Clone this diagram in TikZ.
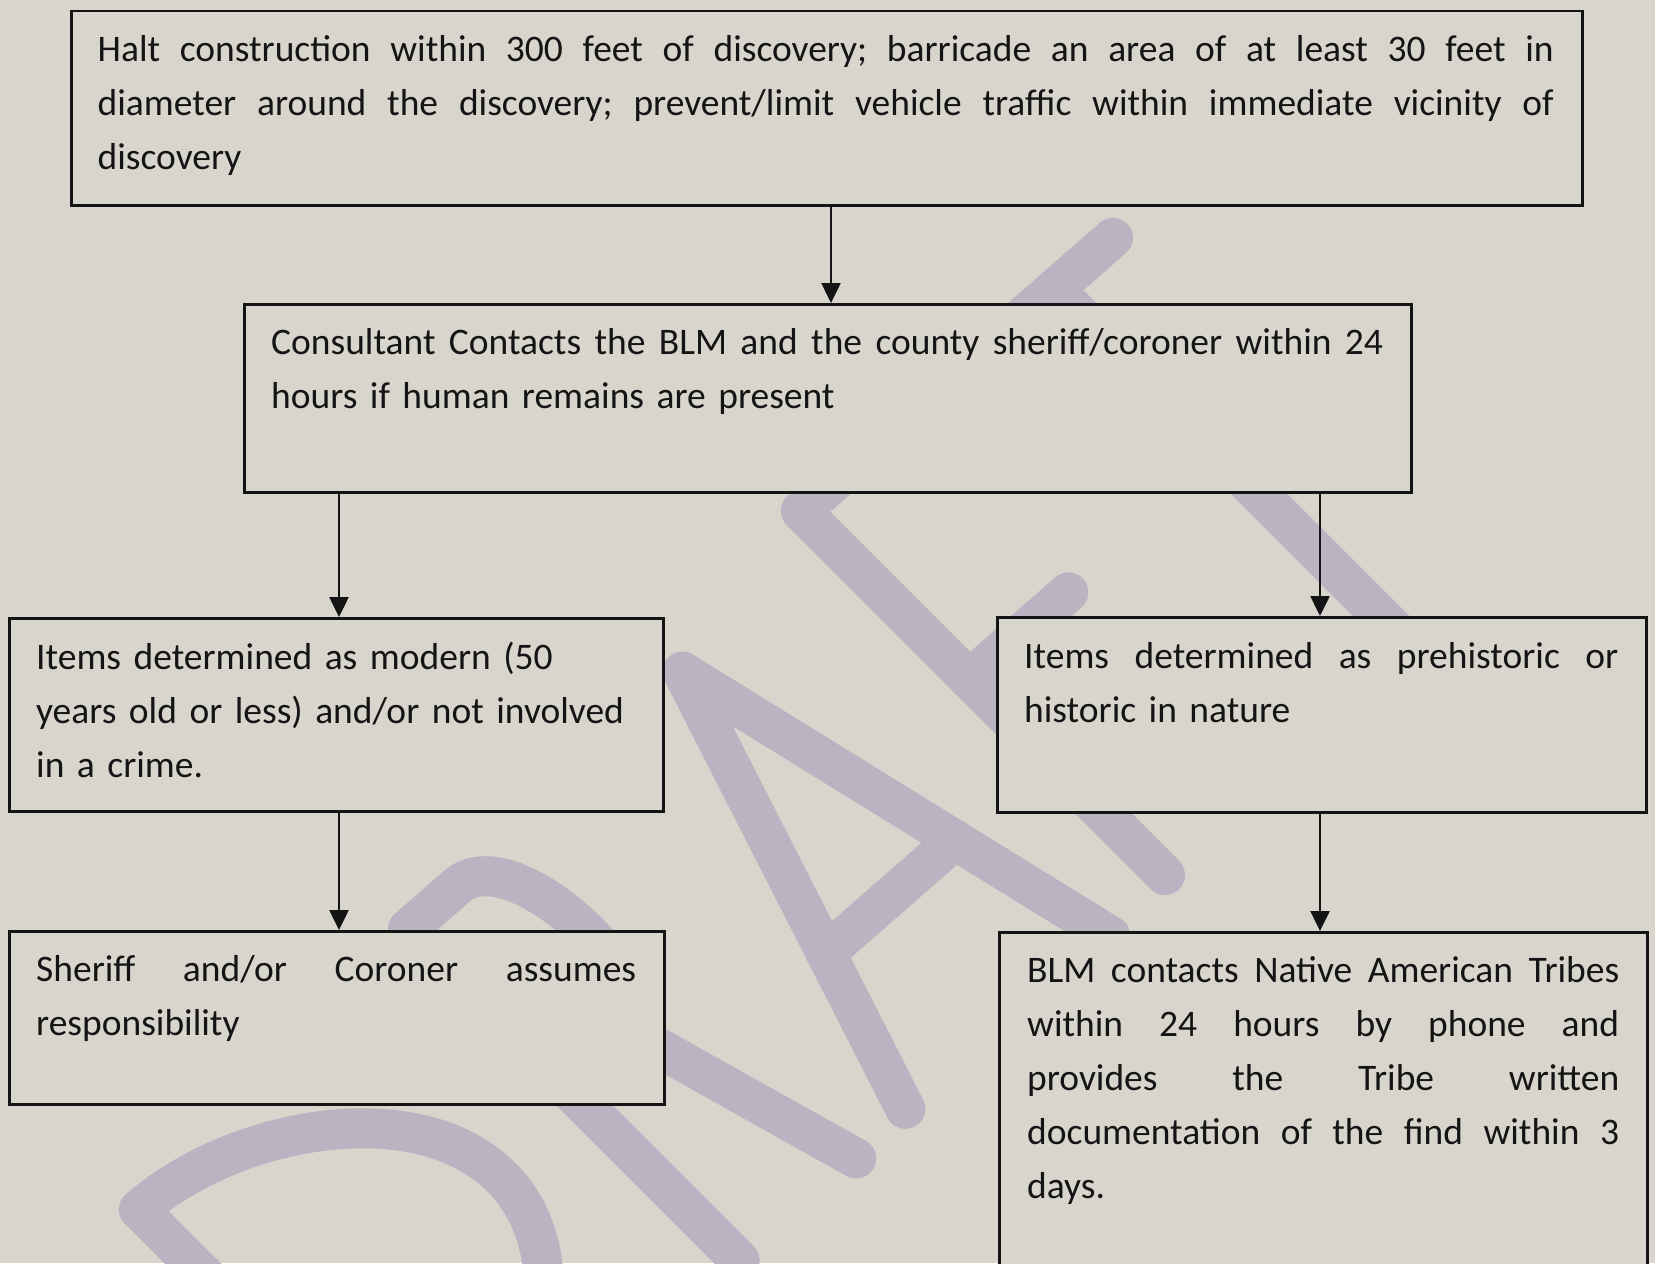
\documentclass[tikz,border=0pt]{standalone}
\usepackage{fontspec}
\setmainfont{Carlito}
\usetikzlibrary{arrows.meta,calc}
\definecolor{paper}{RGB}{216,213,204}
\definecolor{wmark}{RGB}{186,179,193}
\definecolor{ink}{RGB}{20,20,20}
\newcommand{\jl}[1]{\leavevmode\hbox to \hsize{\frenchspacing\spaceskip=0pt\xspaceskip=0pt #1}}
\begin{document}
\begin{tikzpicture}[x=1bp,y=-1bp,
  box/.style={draw=ink, line width=2.5bp, fill=paper, rectangle, inner sep=0pt, anchor=north west},
  txt/.style={inner sep=0pt, anchor=base west, text=ink, font=\fontsize{37.5bp}{54bp}\selectfont, align=left},
  arr/.style={draw=ink, line width=2.5bp, -{Triangle[width=19bp,length=20bp]}},
  wm/.style={draw=wmark, line width=40bp, line cap=round, line join=round}]
\useasboundingbox (0,0) rectangle (1655,1263);
\fill[paper] (0,0) rectangle (1655,1263);
\begin{scope}
\clip (0,0) rectangle (1655,1263);
% watermark "DRAFT"
\begin{scope}[shift={(1165,875)}, x={(0.752bp,0.658bp)}, y={(-0.707bp,0.707bp)}]
  % D
  \draw[wm] (-965,0) -- (-965,425) .. controls (-840,425) and (-685,330) .. (-685,210)
        .. controls (-685,90) and (-840,0) .. (-965,0) -- cycle;
  % R
  \draw[wm] (-575,-10) -- (-575,459) -- (-510,459) .. controls (-430,459) and (-430,215) .. (-510,215) -- (-575,215);
  \draw[wm] (-485,215) -- (-420,-10);
  % A
  \draw[wm] (-350,-5) -- (-198,472) -- (-82,-10);
  \draw[wm] (-296,165) -- (-124,165);
  % F
  \draw[wm] (0,0) -- (0,515) -- (415,515);
  \draw[wm] (0,277) -- (132,277);
  % T
  \draw[wm] (337,515) -- (337,0);
\end{scope}
% boxes
\node[box, minimum width=1511bp, minimum height=194.5bp] (b1) at (70,9.5) {};
\node[box, minimum width=1167bp, minimum height=188bp] (b2) at (243,303) {};
\node[box, minimum width=654bp, minimum height=193bp] (b3) at (8,617) {};
\node[box, minimum width=649bp, minimum height=195bp] (b4) at (996,616) {};
\node[box, minimum width=655bp, minimum height=173bp] (b5) at (8,930) {};
\node[box, minimum width=648bp, minimum height=360bp] (b6) at (998,931) {};
% texts
\node[txt, text width=1456bp] (t1) at ($(b1.north west)+(27.5,51.5)$)
  {\jl{Halt construction within 300 feet of discovery; barricade an area of at least 30 feet in}\\
   \jl{diameter around the discovery; prevent/limit vehicle traffic within immediate vicinity of}\\
   discovery};
\node[txt, text width=1112bp] (t2) at ($(b2.north west)+(28,51.5)$)
  {\jl{Consultant Contacts the BLM and the county sheriff/coroner within 24}\\
   hours if human remains are present};
\node[txt, text width=600bp] (t3) at ($(b3.north west)+(28,52)$)
  {Items determined as modern (50\\
   years old or less) and/or not involved\\
   in a crime.};
\node[txt, text width=594bp] (t4) at ($(b4.north west)+(28,52)$)
  {\jl{Items determined as prehistoric or}\\
   historic in nature};
\node[txt, text width=600bp] (t5) at ($(b5.north west)+(28,51.5)$)
  {\jl{Sheriff and/or Coroner assumes}\\
   responsibility};
\node[txt, text width=592bp] (t6) at ($(b6.north west)+(29,51)$)
  {\jl{BLM contacts Native American Tribes}\\
   \jl{within 24 hours by phone and}\\
   \jl{provides the Tribe written}\\
   \jl{documentation of the find within 3}\\
   days.};
% connectors
\coordinate (xa) at (831,0);
\coordinate (xl) at (339,0);
\coordinate (xr) at (1320,0);
\draw[arr] (b1.south -| xa) -- (b2.north -| xa);
\draw[arr] (b2.south -| xl) -- (b3.north -| xl);
\draw[arr] (b2.south -| xr) -- (b4.north -| xr);
\draw[arr] (b3.south -| xl) -- (b5.north -| xl);
\draw[arr] (b4.south -| xr) -- (b6.north -| xr);
\end{scope}
\end{tikzpicture}
\end{document}
